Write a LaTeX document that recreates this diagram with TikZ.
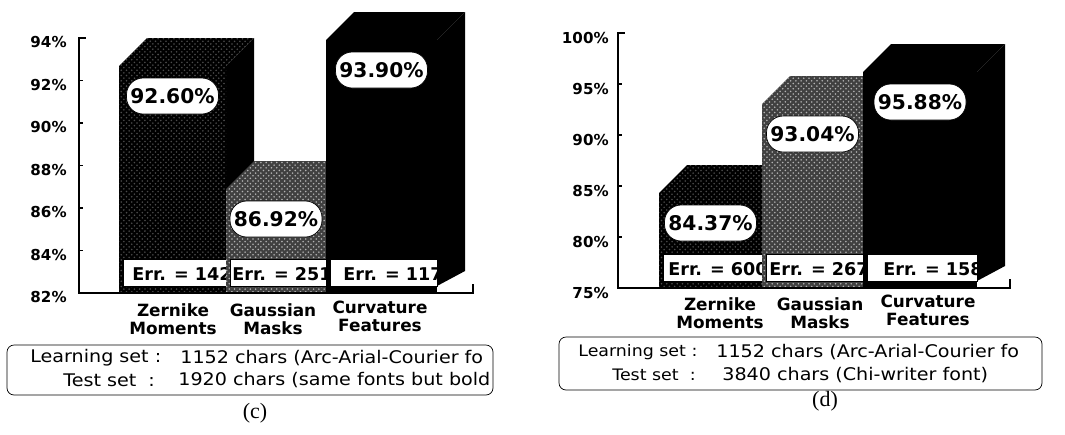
\documentclass[tikz,border=0pt]{standalone}
\usepackage{fontspec}
\setmainfont{DejaVu Sans}
\newfontfamily\legendfont{DejaVu Sans}[FakeStretch=1.1]
\newfontfamily\capfont{Liberation Serif}
\usetikzlibrary{patterns}

\begin{document}
\begin{tikzpicture}
[x=0.02cm,y=-0.02cm,
  axisline/.style={line width=1.2pt,line cap=rect},
  tickmark/.style={line width=1pt},
  ticklabel/.style={anchor=east,inner sep=0pt,font=\fontsize{8.6}{9}\selectfont\bfseries},
  catlabel/.style={align=center,inner sep=0pt,font=\fontsize{9.6}{10.4}\selectfont\bfseries},
  pctlabel/.style={fill=white,draw=black,thin,rounded corners=9.5pt,minimum width=1.84cm,
    minimum height=0.72cm,inner sep=0pt,font=\bfseries\fontsize{11.5}{12}\selectfont},
  errbox/.style={fill=white,draw=black,thin},
  errlabel/.style={anchor=east,inner sep=0pt,font=\fontsize{10}{11}\selectfont\bfseries},
  legendbox/.style={draw=black,thin,rounded corners=4pt},
  legendtext/.style={inner sep=0pt,font=\legendfont\fontsize{9.9}{11}\selectfont},
  captiontext/.style={inner sep=0pt,font=\capfont\fontsize{12.5}{14}\selectfont},
  zfill/.style={fill=black,postaction={pattern=crosshatch dots,pattern color=black!70}},
  gfill/.style={fill=black!75,postaction={pattern=crosshatch dots,pattern color=black!30}},
  cfill/.style={fill=black}]
\useasboundingbox (0,0) rectangle (1065,434);

%% bars: name / left / right / top / face / value / errors / axis
\foreach \barid/\xl/\xr/\ytop/\facestyle/\val/\err/\yb in {
  zc/119/226/66/zfill/92.60/142/293, gc/226/326/189/gfill/86.92/251/293,
  cc/326/437/40/cfill/93.90/117/293,
  zd/659/762/193/zfill/84.37/600/288, gd/762/863/104/gfill/93.04/267/288,
  cd/863/977/72/cfill/95.88/158/288} {
  \fill[black] (\xr,\ytop) -- ++(28,-28) -- (\xr+28,\yb-22) -- (\xr,\yb-7) -- cycle;
  \path[\facestyle] (\xl,\ytop) -- ++(28,-28) -- (\xr+28,\ytop-28) -- (\xr,\ytop) -- cycle;
  \path[\facestyle] (\xl,\ytop) rectangle (\xr,\yb);
  \node[pctlabel] (\barid-val) at ({(\xl+\xr)/2},\ytop+30) {\val\%};
  \draw[errbox] (\xl+4,\yb-34) rectangle (\xr,\yb-7);
  \begin{scope}
    \clip (\xl+4,\yb-34) rectangle (\xr,\yb-7);
    \node[errlabel] (\barid-err) at (\xr+6,\yb-19) {Err. = \err};
  \end{scope}
}

%% axes of (c)
\draw[axisline] (85,38) -- (79,38) -- (79,293) -- (473,293) -- (473,285);
\foreach \yy/\lab in {38/94, 80.5/92, 123/90, 165.5/88, 208/86, 250.5/84, 293/82} {
  \draw[tickmark] (79,\yy) -- (83,\yy);
  \node[ticklabel] (c-t\lab) at (67,\yy+4) {\lab\%};
}
%% axes of (d)
\draw[axisline] (624,33) -- (618,33) -- (618,288) -- (1010,288) -- (1010,280);
\foreach \yy/\lab in {33/100, 84/95, 135/90, 186/85, 237/80, 288/75} {
  \draw[tickmark] (618,\yy) -- (622,\yy);
  \node[ticklabel] (d-t\lab) at (609,\yy+5) {\lab\%};
}

%% category names
\foreach \catid/\x/\y/\txt in {zc/173/319/Zernike\\Moments, gc/273/319/Gaussian\\Masks,
  cc/380/316/Curvature\\Features, zd/720/313/Zernike\\Moments,
  gd/820/313/Gaussian\\Masks, cd/928/310/Curvature\\Features} {
  \node[catlabel] (\catid-cat) at (\x,\y) {\txt};
}

%% legends
\draw[legendbox] (7,345) rectangle (493,395);
\begin{scope}
  \clip (7,345) rectangle (493,395);
  \node[legendtext,anchor=west] (c-learn) at (30,358) {Learning set :};
  \node[legendtext,anchor=west] (c-learnval) at (180,358) {1152 chars (Arc-Arial-Courier fo};
  \node[legendtext,anchor=west] (c-test) at (63,380) {Test set\ \ :};
  \node[legendtext,anchor=west] (c-testval) at (178,380) {1920 chars (same fonts but bold};
\end{scope}
\draw[legendbox] (559,337) rectangle (1042,390);
\begin{scope}
  \clip (559,337) rectangle (1042,390);
  \node[legendtext,anchor=west,font=\legendfont\fontsize{9}{11}\selectfont] (d-learn) at (578,352) {Learning set :};
  \node[legendtext,anchor=west] (d-learnval) at (716,352) {1152 chars (Arc-Arial-Courier fo};
  \node[legendtext,anchor=west,font=\legendfont\fontsize{9}{11}\selectfont] (d-test) at (612,375) {Test set\ \ :};
  \node[legendtext,anchor=west] (d-testval) at (722,375) {3840 chars (Chi-writer font)};
\end{scope}

%% captions
\node[captiontext] (c-caption) at (255,413) {(c)};
\node[captiontext] (d-caption) at (825,401) {(d)};
\end{tikzpicture}
\end{document}
